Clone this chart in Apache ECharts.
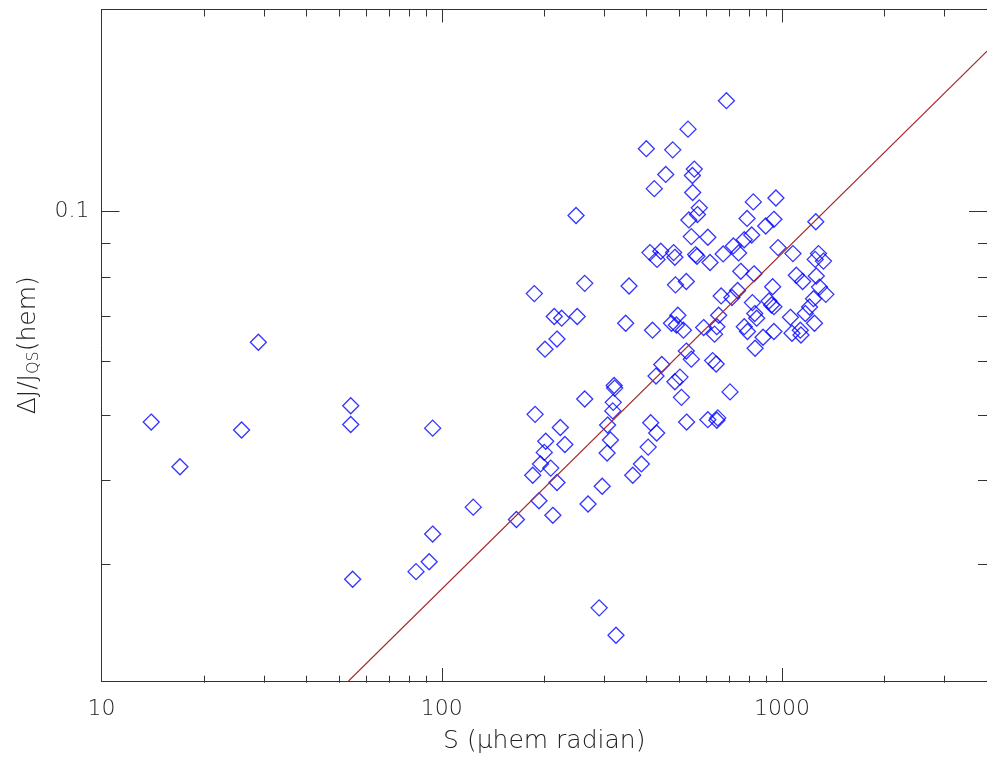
<!DOCTYPE html>
<html>
<head>
<meta charset="utf-8">
<script src="https://cdn.jsdelivr.net/npm/echarts@6/dist/echarts.min.js"></script>
<style>
  html, body { margin: 0; padding: 0; background: #fff; }
  #chart { width: 987px; height: 759px; }
</style>
</head>
<body>
<div id="chart"></div>
<script>
// S (micro-hem radian) for each event
var sValues = [
  14.0, 17.0, 25.8, 28.9, 54.0, 54.0, 54.7, 94.0, 84.0, 91.8, 94.0, 123.7, 165.7,
  223, 202, 230, 200, 195, 209, 185, 218, 193, 212, 290, 325, 307, 313, 306, 296, 269, 411, 428, 404, 386, 364, 524,
  263, 355, 486, 523, 187, 214, 225, 250, 347, 416, 494, 473, 489, 513, 218, 201, 523, 541, 443, 426, 484, 501, 321, 322, 319, 318, 263, 506, 188,
  529, 399, 477, 455, 421, 248, 409, 440, 480, 429, 484,
  686, 552, 545, 546, 571, 564, 532, 823, 959, 789, 895, 946, 1256, 541, 605, 814, 774, 719, 745, 671, 973, 1076, 557, 562, 614, 1279, 1251, 1323,
  756, 827, 938, 1101, 1149, 1260, 1288, 1344, 1237, 1204, 1170, 1245, 1058, 1069, 1131, 1136, 662, 712, 740, 818, 915, 931, 946,
  651, 831, 842, 588, 643, 633, 774, 791, 879, 946, 833, 625, 640, 703, 605, 647, 643
];
// dJ / J_QS (hem) for each event
var djValues = [
  0.0486, 0.0417, 0.0473, 0.0639, 0.0514, 0.0482, 0.02835, 0.0476, 0.0291, 0.0301, 0.0331, 0.0363, 0.0348,
  0.0477, 0.0455, 0.0450, 0.0438, 0.0421, 0.0415, 0.0405, 0.0395, 0.0371, 0.0353, 0.0257, 0.0234, 0.0481, 0.0457, 0.0437, 0.0390, 0.0367, 0.0485, 0.0468, 0.0446, 0.0421, 0.0405, 0.0486,
  0.0782, 0.0775, 0.0778, 0.0787, 0.0755, 0.0698, 0.0694, 0.0698, 0.0682, 0.0666, 0.0701, 0.0682, 0.0678, 0.0666, 0.0646, 0.0624, 0.0620, 0.0603, 0.0592, 0.0569, 0.0558, 0.0567, 0.0551, 0.0546, 0.0520, 0.0505, 0.0526, 0.0529, 0.0499,
  0.1327, 0.1241, 0.1236, 0.1136, 0.1082, 0.0987, 0.0869, 0.0873, 0.0869, 0.0849, 0.0855,
  0.1463, 0.1157, 0.1132, 0.1068, 0.1013, 0.0990, 0.0972, 0.1034, 0.1048, 0.0977, 0.0952, 0.0974, 0.0966, 0.0918, 0.0916, 0.0923, 0.0908, 0.0889, 0.0868, 0.0865, 0.0884, 0.0866, 0.0863, 0.0858, 0.0840, 0.0866, 0.0849, 0.0844,
  0.0815, 0.0808, 0.0773, 0.0804, 0.0787, 0.0802, 0.0772, 0.0753, 0.0742, 0.0721, 0.0705, 0.0682, 0.0696, 0.0659, 0.0666, 0.0655, 0.0749, 0.0745, 0.0763, 0.0732, 0.0736, 0.0726, 0.0722,
  0.0701, 0.0705, 0.0694, 0.0672, 0.0674, 0.0657, 0.0674, 0.0663, 0.0650, 0.0663, 0.0626, 0.0600, 0.0593, 0.0539, 0.0490, 0.0493, 0.0489
];
// power-law fit line end points (slope 1/2 in log-log)
var fitS = [53.2, 4000];
var fitDj = [0.0200, 0.1734];

var xMajorTicks = [10, 100, 1000];
var xMinorTicks = [20, 30, 40, 50, 60, 70, 80, 90, 200, 300, 400, 500, 600, 700, 800, 900, 2000, 3000, 4000];
var yMajorTicks = [0.1];
var yMinorTicks = [0.03, 0.04, 0.05, 0.06, 0.07, 0.08, 0.09];

var points = sValues.map(function (s, i) { return [s, djValues[i]]; });
var fitLine = fitS.map(function (s, i) { return [s, fitDj[i]]; });

var font = 'DejaVu Sans';
var ink = '#222';

function plain(v) { return String(v); }

function xAx(grid, pos, ticks, len, main) {
  return {
    type: 'log', gridIndex: grid, position: pos, min: 10, max: 4000,
    axisLine: { show: main, lineStyle: { color: '#333', width: 1 } },
    axisTick: { inside: true, length: len, customValues: ticks, lineStyle: { color: '#333' } },
    axisLabel: { show: main && pos === 'bottom', customValues: xMajorTicks, formatter: plain,
      fontSize: 22, margin: 17, color: ink, fontFamily: font, fontWeight: 300 },
    splitLine: { show: false }
  };
}
function yAx(grid, pos, ticks, len, main) {
  return {
    type: 'log', gridIndex: grid, position: pos, min: 0.02, max: 0.2,
    axisLine: { show: main, lineStyle: { color: '#333', width: 1 } },
    axisTick: { inside: true, length: len, customValues: ticks, lineStyle: { color: '#333' } },
    axisLabel: { show: main && pos === 'left', customValues: yMajorTicks, formatter: plain,
      fontSize: 22, margin: 12, color: ink, fontFamily: font, fontWeight: 300 },
    splitLine: { show: false }
  };
}

var xs = [
  xAx(0, 'bottom', xMajorTicks, 13, true),
  xAx(0, 'top', xMajorTicks, 13, true),
  xAx(1, 'bottom', xMinorTicks, 7, false),
  xAx(1, 'top', xMinorTicks, 7, false)
];
xs[0].name = 'S (\u03bchem radian)';
xs[0].nameLocation = 'middle';
xs[0].nameGap = 48;
xs[0].nameTextStyle = { fontSize: 25, color: ink, fontFamily: font, fontWeight: 300 };

var ys = [
  yAx(0, 'left', yMajorTicks, 18, true),
  yAx(0, 'right', yMajorTicks, 18, true),
  yAx(1, 'left', yMinorTicks, 9, false),
  yAx(1, 'right', yMinorTicks, 9, false)
];
ys[0].name = '\u0394J/J{sub|QS}(hem)';
ys[0].nameLocation = 'middle';
ys[0].nameGap = 60;
ys[0].nameTextStyle = {
  fontSize: 25, color: ink, fontFamily: font, fontWeight: 300,
  rich: { sub: { fontSize: 16, color: ink, fontFamily: font, fontWeight: 300, verticalAlign: 'bottom', padding: [11, 0, 0, 0] } }
};

var chart = echarts.init(document.getElementById('chart'));
chart.setOption({
  animation: false,
  backgroundColor: '#fff',
  grid: [
    { left: 101.5, top: 9.5, width: 894, height: 673.2 },
    { left: 101.5, top: 9.5, width: 894, height: 673.2 }
  ],
  xAxis: xs,
  yAxis: ys,
  series: [
    {
      type: 'line', xAxisIndex: 0, yAxisIndex: 0, data: fitLine,
      showSymbol: false, silent: true,
      lineStyle: { color: '#a52a2a', width: 1.1 }
    },
    {
      type: 'scatter', xAxisIndex: 0, yAxisIndex: 0, data: points,
      symbol: 'diamond', symbolSize: 16, silent: true,
      itemStyle: { color: 'rgba(0,0,0,0)', borderColor: '#0000ff', borderWidth: 1.3 }
    }
  ]
});
</script>
</body>
</html>
